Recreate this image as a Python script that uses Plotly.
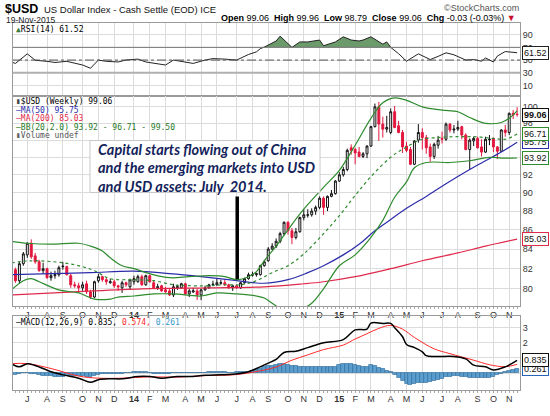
import math
import numpy as np
import pandas as pd
import plotly.graph_objects as go

# ------------------------------------------------------------------ data
SYMBOL = "$USD"
NAME = "US Dollar Index - Cash Settle (EOD) ICE"
AS_OF = "19-Nov-2015"
HDR_OPEN, HDR_HIGH, HDR_LOW, HDR_CLOSE, HDR_CHG, HDR_CHG_PCT = "99.06", "99.96", "98.79", "99.06", "-0.03", "-0.03%"

WEEK_START = "2013-06-03"   # first weekly bar (Monday)

OPEN = [83.2, 81.9, 80.8, 82.5, 83.4, 84.6, 83.3, 82.7, 81.8, 82.0,
        81.1, 81.3, 81.4, 82.2, 82.2, 81.3, 80.4, 80.3, 80.1, 80.5,
        79.7, 79.2, 80.8, 81.2, 80.9, 80.6, 80.7, 80.3, 80.1, 80.6,
        80.2, 80.7, 80.7, 81.2, 80.4, 81.3, 80.6, 80.1, 80.3, 79.9,
        79.8, 79.4, 80.1, 80.1, 80.5, 79.5, 79.7, 79.8, 79.4, 79.9,
        80.1, 80.4, 80.4, 80.55, 80.6, 80.4, 80.1, 80.3, 80.1, 80.6,
        81.0, 81.35, 81.4, 81.4, 82.3, 82.8, 84.0, 84.3, 84.8, 85.6,
        86.8, 85.9, 85.2, 85.8, 87.3, 87.55, 87.6, 88.0, 88.4, 89.4,
        88.4, 89.6, 89.9, 91.3, 92.0, 92.6, 95.1, 94.9, 94.6, 94.1,
        94.4, 95.3, 97.6, 100.0, 97.9, 97.3, 96.9, 99.4, 97.7, 96.9,
        95.3, 94.9, 93.2, 96.0, 96.9, 96.3, 95.2, 94.1, 95.4, 96.2,
        96.1, 97.9, 97.2, 97.3, 97.6, 96.6, 94.9, 95.9, 96.2, 95.2,
        94.6, 96.05, 96.2, 95.2, 94.7, 97.2, 96.9, 99.2, 99.1]
HIGH = [83.3, 82.1, 82.7, 83.7, 84.7, 85.0, 83.6, 82.9, 82.6, 82.1,
        81.7, 81.8, 82.3, 82.7, 82.3, 81.5, 80.7, 80.6, 80.7, 80.8,
        79.9, 80.8, 81.5, 81.3, 81.1, 81.0, 80.9, 80.4, 80.8, 80.7,
        81.0, 81.3, 81.4, 81.4, 81.4, 81.4, 80.8, 80.5, 80.4, 80.2,
        80.0, 80.5, 80.4, 80.6, 80.6, 80.0, 80.1, 80.0, 80.0, 80.3,
        80.5, 80.8, 81.0, 80.9, 80.9, 80.5, 80.4, 80.4, 80.7, 81.1,
        81.6, 81.7, 81.6, 82.4, 82.9, 84.2, 84.6, 85.1, 85.8, 86.9,
        86.9, 86.2, 86.2, 87.4, 88.2, 88.2, 88.3, 88.6, 89.6, 89.6,
        89.7, 90.3, 91.4, 92.3, 92.9, 95.0, 95.5, 95.1, 95.2, 94.6,
        95.4, 97.7, 100.4, 100.6, 98.8, 98.9, 99.8, 100.1, 98.3, 97.2,
        95.8, 95.2, 96.0, 97.9, 97.4, 96.6, 95.6, 95.7, 96.5, 97.0,
        98.1, 98.0, 97.8, 98.3, 97.7, 96.8, 96.2, 96.4, 96.4, 96.1,
        96.4, 96.6, 96.3, 95.3, 97.3, 97.8, 99.3, 99.6, 99.96]
LOW = [81.0, 80.6, 80.5, 82.3, 83.1, 83.0, 82.5, 81.7, 81.5, 81.0,
       80.8, 81.0, 81.2, 81.9, 81.3, 80.1, 80.1, 79.6, 79.8, 79.5,
       79.0, 79.1, 80.6, 80.7, 80.4, 80.5, 80.1, 79.8, 79.6, 80.2,
       79.9, 80.4, 80.6, 80.3, 80.3, 80.6, 80.0, 79.9, 79.7, 79.6,
       79.3, 79.2, 79.9, 80.0, 79.4, 79.2, 79.6, 78.9, 78.9, 79.8,
       80.0, 80.3, 80.3, 80.4, 80.3, 80.0, 79.8, 80.0, 80.0, 80.5,
       80.9, 81.2, 81.2, 81.3, 82.2, 82.7, 83.9, 84.1, 84.6, 85.4,
       85.5, 84.5, 85.0, 85.7, 87.0, 87.3, 87.4, 87.6, 88.2, 87.6,
       88.0, 89.5, 89.8, 91.2, 91.8, 92.4, 94.3, 93.2, 94.0, 93.9,
       93.9, 95.2, 97.5, 95.9, 96.3, 96.9, 96.7, 97.4, 96.8, 94.5,
       94.6, 93.1, 93.1, 95.7, 94.9, 94.4, 93.5, 93.8, 95.0, 95.6,
       95.9, 96.9, 96.8, 97.1, 96.1, 94.8, 92.6, 95.3, 95.0, 94.1,
       94.5, 95.4, 94.6, 93.8, 94.6, 96.4, 96.6, 98.5, 98.79]
CLOSE = [81.6, 80.8, 82.5, 83.5, 84.6, 83.2, 82.7, 81.8, 82.0, 81.1,
         81.3, 81.4, 82.1, 82.25, 81.4, 80.4, 80.3, 80.1, 80.4, 79.7,
         79.2, 80.7, 81.2, 80.9, 80.7, 80.7, 80.3, 80.2, 80.6, 80.4,
         80.9, 81.0, 81.2, 80.4, 81.3, 80.7, 80.1, 80.2, 79.8, 79.7,
         79.4, 80.2, 80.2, 80.5, 79.5, 79.8, 79.8, 79.4, 79.9, 80.1,
         80.4, 80.45, 80.6, 80.6, 80.4, 80.1, 80.3, 80.1, 80.6, 81.0,
         81.4, 81.4, 81.5, 82.3, 82.7, 84.0, 84.3, 84.8, 85.6, 86.8,
         85.9, 85.2, 85.8, 87.3, 87.6, 87.6, 88.0, 88.4, 89.4, 88.4,
         89.6, 89.9, 91.3, 92.0, 92.6, 94.8, 94.8, 94.5, 94.1, 94.4,
         95.3, 97.6, 100.0, 97.9, 97.3, 97.5, 99.4, 97.5, 96.9, 95.2,
         94.8, 93.2, 95.9, 96.9, 96.3, 95.1, 94.1, 95.5, 96.0, 96.1,
         97.9, 97.2, 97.3, 97.5, 96.6, 94.9, 96.0, 96.2, 95.1, 94.6,
         96.1, 96.1, 95.2, 94.7, 97.2, 96.9, 99.2, 99.0, 99.06]

# overlays: (week index, value)
MA50_WK = [0, 10, 20, 31, 40, 48, 56, 64, 70, 75, 79, 84, 88, 92, 96, 100, 105, 110, 116, 120, 124, 128]
MA50 = [81.4, 81.5, 81.6, 81.75, 81.5, 81.2, 80.85, 80.55, 80.9, 81.6, 82.3, 83.4, 84.5, 85.9, 87.1,
        88.3, 89.6, 91.0, 92.6, 93.6, 94.6, 95.75]
MA200_WK = [0, 16, 33, 50, 64, 74, 79, 87, 96, 104, 113, 120, 128]
MA200 = [79.4, 79.7, 80.0, 80.1, 80.2, 80.5, 80.7, 81.2, 82.0, 82.8, 83.6, 84.3, 85.03]
BBM_WK = [0, 5, 13, 18, 21, 25, 31, 36, 41, 46, 50, 54, 58, 62, 66, 70, 74, 79, 83, 87, 91, 96,
          100, 104, 108, 112, 117, 122, 125, 128]
BBM = [82.6, 82.8, 82.6, 82.2, 81.8, 81.0, 80.9, 80.8, 80.4, 80.3, 80.3, 80.4, 80.4, 80.8, 81.6,
       82.3, 83.5, 85.6, 87.5, 89.7, 91.8, 94.0, 95.2, 96.1, 96.3, 96.4, 96.4, 96.2, 96.1, 96.71]
BBU_WK = [0, 4, 10, 17, 20, 23, 25, 28, 31, 35, 40, 45, 50, 54, 57, 60, 62, 64, 67, 70, 74, 79,
          83, 87, 91, 94, 97, 100, 104, 109, 113, 116, 120, 124, 126, 128]
BBU = [84.8, 84.6, 84.5, 84.6, 84.3, 83.8, 83.1, 82.3, 82.0, 81.5, 81.1, 81.2, 81.3, 81.2, 80.9,
       81.2, 81.7, 82.8, 84.3, 86.0, 88.2, 90.6, 92.5, 95.4, 98.6, 100.5, 101.1, 100.8, 100.0,
       99.6, 99.4, 98.7, 98.0, 98.1, 98.6, 99.5]
BBL_WK = [0, 3, 5, 7, 12, 17, 21, 25, 27, 31, 36, 41, 48, 52, 57, 62, 64, 66, 68, 70, 73, 76,
          79, 83, 87, 91, 94, 97, 100, 102, 105, 111, 116, 121, 124, 128]
BBL = [79.9, 80.8, 81.0, 80.7, 79.9, 79.6, 79.0, 79.0, 79.2, 79.3, 79.5, 79.5, 79.3, 79.6, 79.5,
       79.3, 79.1, 78.6, 78.1, 77.9, 78.0, 78.6, 80.0, 82.3, 83.4, 85.2, 87.0, 89.5, 91.2, 92.8,
       93.4, 93.4, 93.6, 94.0, 93.9, 93.92]

RSI_WK = [0, 1, 4, 5, 6, 9, 11, 14, 17, 18, 20, 22, 24, 27, 29, 32, 34, 37, 39, 41, 44, 46, 49,
          51, 54, 57, 60, 62, 63, 64, 67, 68, 71, 73, 75, 78, 79, 82, 84, 86, 88, 89, 91, 94, 95,
          96, 98, 100, 103, 106, 108, 110, 112, 115, 117, 119, 120, 122, 123, 125, 128]
RSI = [47, 44.7, 59.8, 54.8, 49.7, 48, 46.2, 48, 43.2, 42.2, 37.1, 50, 48, 47, 50, 51.5, 47, 44.7,
       42.2, 50, 47, 44.7, 50, 52.3, 51.5, 50, 58.8, 62.9, 68.0, 70.4, 80, 87.6, 70, 78.5, 78.5,
       81.5, 72.5, 78.5, 86.6, 81.5, 80, 81.5, 86.6, 75, 78.5, 70, 60, 48.2, 59.8, 50.8, 55.8,
       61.4, 58.3, 50, 50.8, 48.2, 53.3, 47, 56.3, 63.4, 61.52]
RSI_LEVELS = (30, 50, 70)
RSI_TICKS = [10, 30, 50, 70, 90]

MACD_WK = [0, 2, 4, 6, 10, 13, 17, 20, 22, 25, 28, 32, 35, 38, 42, 45, 49, 53, 56, 60, 62, 65, 67,
           69, 72, 75, 79, 84, 87, 90, 91, 94, 96, 97, 99, 100, 102, 104, 105, 107, 112, 115, 117,
           120, 122, 125, 128]
MACD = [0.62, 0.41, 0.62, 0.5, 0.09, -0.12, -0.34, -0.61, -0.44, -0.38, -0.38, -0.23, -0.23, -0.34,
        -0.23, -0.23, -0.15, -0.12, -0.08, 0.09, 0.3, 0.66, 0.9, 1.36, 1.44, 1.68, 2.0, 2.21, 2.85,
        2.9, 3.3, 3.28, 3.28, 3.0, 2.4, 1.89, 1.68, 1.4, 1.15, 1.09, 1.1, 0.94, 0.52, 0.41, 0.2,
        0.41, 0.835]
SIG_WK = [0, 4, 10, 17, 22, 28, 35, 42, 49, 56, 61, 67, 71, 75, 79, 84, 87, 90, 93, 96, 99, 102,
          107, 111, 117, 121, 125, 128]
SIG = [0.62, 0.62, 0.3, -0.2, -0.34, -0.34, -0.25, -0.27, -0.17, -0.12, 0.05, 0.4, 0.85, 1.2, 1.55,
       1.85, 2.25, 2.6, 2.95, 3.15, 2.9, 2.35, 1.6, 1.28, 0.85, 0.55, 0.42, 0.574]
HIST = [-0.05, -0.10, -0.05, 0.00, 0.02, -0.04, -0.08, -0.12, -0.16, -0.19,
        -0.21, -0.22, -0.22, -0.22, -0.21, -0.20, -0.18, -0.16, -0.20, -0.26,
        -0.30, -0.20, -0.12, -0.08, -0.05, -0.04, -0.03, -0.02, -0.03, 0.00,
        0.04, 0.07, 0.09, 0.08, 0.05, 0.03, -0.02, -0.05, -0.07, -0.05,
        -0.03, 0.00, 0.02, 0.03, 0.01, -0.01, 0.00, 0.01, 0.03, 0.04,
        0.05, 0.06, 0.06, 0.05, 0.05, 0.04, 0.04, 0.05, 0.06, 0.08,
        0.10, 0.15, 0.22, 0.30, 0.38, 0.45, 0.50, 0.55, 0.60, 0.58,
        0.55, 0.50, 0.45, 0.44, 0.42, 0.42, 0.40, 0.40, 0.38, 0.38,
        0.38, 0.40, 0.44, 0.52, 0.58, 0.62, 0.60, 0.55, 0.45, 0.38,
        0.42, 0.52, 0.45, 0.35, 0.25, 0.15, 0.08, -0.12, -0.32, -0.52,
        -0.72, -0.76, -0.70, -0.66, -0.62, -0.64, -0.60, -0.54, -0.45, -0.38,
        -0.28, -0.22, -0.18, -0.20, -0.24, -0.28, -0.30, -0.32, -0.32, -0.30,
        -0.32, -0.30, -0.26, -0.14, -0.02, 0.08, 0.16, 0.22, 0.261]
MACD_TICKS = [0, 1, 2, 3]
MACD_TICK_TEXT = ["", "", "2", "3"]          # 0 and 1 sit under the value boxes

TICK_DATES = ["2013-07-01", "2013-08-05", "2013-09-02", "2013-10-07", "2013-11-04", "2013-12-02",
              "2014-01-06", "2014-02-03", "2014-03-03", "2014-04-07", "2014-05-05", "2014-06-02",
              "2014-07-07", "2014-08-04", "2014-09-01", "2014-10-06", "2014-11-03", "2014-12-01",
              "2015-01-05", "2015-02-02", "2015-03-02", "2015-04-06", "2015-05-04", "2015-06-01",
              "2015-07-06", "2015-08-03", "2015-09-07", "2015-10-05", "2015-11-02"]
TICK_TEXT = ["J", "A", "S", "O", "N", "D", "<b>14</b>", "F", "M", "A", "M", "J", "J", "A", "S", "O",
             "N", "D", "<b>15</b>", "F", "M", "A", "M", "J", "J", "A", "S", "O", "N"]
PRICE_TICKS = [80, 82, 84, 86, 88, 90, 92, 94, 96, 98, 100]
PRICE_TICK_TEXT = ["80", "82", "84", "86", "88", "90", "92", "", "", "98", "100"]  # 94/96 hidden by boxes

EVENT_DATE = "2014-07-08"
EVENT_LOW, EVENT_HIGH = 80.95, 89.6
NOTE_LINES = ["Capital starts flowing out of China",
              "and the emerging markets into USD",
              "and USD assets: July\u00a0 2014."]

# ------------------------------------------------------------------ geometry
W, H = 550, 416
ML, MR, MT, MB = 13, 30, 23, 12
PW, PH = W - ML - MR, H - MT - MB


def px_x(px):
    return (px - ML) / PW


def px_y(py):
    return (H - MB - py) / PH


dates = pd.date_range(WEEK_START, periods=len(CLOSE), freq="7D")


def wk(idx):
    return [dates[i] for i in idx]


XRANGE = ["2013-06-05 16:00", "2015-11-21 03:00"]
GRID = "#dcdcdc"
FRAME = "#9a9a9a"
C_UP_LINE, C_DN = "#111111", "#e3173e"
C_MA50, C_MA200, C_BB = "#2c2caa", "#e02a4c", "#2e8b2e"
TICKFONT = dict(family="Liberation Sans", size=9, color="#333333")
MONO = "DejaVu Sans Mono"

fig = go.Figure()

# ---- RSI panel
x_rsi = wk(RSI_WK)
fig.add_trace(go.Scatter(x=x_rsi, y=[RSI_LEVELS[2]] * len(x_rsi), mode="lines",
                         line=dict(width=0), xaxis="x", yaxis="y", hoverinfo="skip"))
fig.add_trace(go.Scatter(x=x_rsi, y=np.maximum(RSI, RSI_LEVELS[2]), mode="lines",
                         line=dict(width=0), fill="tonexty", fillcolor="#6b9a6b",
                         xaxis="x", yaxis="y", hoverinfo="skip"))
fig.add_trace(go.Scatter(x=x_rsi, y=RSI, mode="lines", line=dict(color="#222222", width=1),
                         xaxis="x", yaxis="y"))

# ---- price panel
fig.add_trace(go.Candlestick(
    x=dates, open=OPEN, high=HIGH, low=LOW, close=CLOSE, xaxis="x2", yaxis="y2",
    increasing=dict(line=dict(color=C_UP_LINE, width=1), fillcolor="white"),
    decreasing=dict(line=dict(color=C_DN, width=1), fillcolor=C_DN),
    whiskerwidth=0))
fig.add_trace(go.Scatter(x=wk(MA200_WK), y=MA200, mode="lines", line=dict(color=C_MA200, width=1.2, shape="spline"),
                         xaxis="x2", yaxis="y2"))
fig.add_trace(go.Scatter(x=wk(MA50_WK), y=MA50, mode="lines", line=dict(color=C_MA50, width=1.2, shape="spline"),
                         xaxis="x2", yaxis="y2"))
fig.add_trace(go.Scatter(x=wk(BBU_WK), y=BBU, mode="lines", line=dict(color=C_BB, width=1.2, shape="spline"),
                         xaxis="x2", yaxis="y2"))
fig.add_trace(go.Scatter(x=wk(BBL_WK), y=BBL, mode="lines", line=dict(color=C_BB, width=1.2, shape="spline"),
                         xaxis="x2", yaxis="y2"))
fig.add_trace(go.Scatter(x=wk(BBM_WK), y=BBM, mode="lines",
                         line=dict(color=C_BB, width=1.2, dash="dot", shape="spline"),
                         xaxis="x2", yaxis="y2"))
fig.add_trace(go.Scatter(x=[EVENT_DATE, EVENT_DATE], y=[EVENT_LOW, EVENT_HIGH], mode="lines",
                         line=dict(color="black", width=3.5), xaxis="x2", yaxis="y2"))

# ---- MACD panel
fig.add_trace(go.Bar(x=dates, y=HIST, marker=dict(color="#5b9fd0", line=dict(color="#2a6496", width=0.6)),
                     xaxis="x3", yaxis="y3"))
fig.add_trace(go.Scatter(x=wk(SIG_WK), y=SIG, mode="lines", line=dict(color="#ff2a2a", width=1, shape="spline"),
                         xaxis="x3", yaxis="y3"))
fig.add_trace(go.Scatter(x=wk(MACD_WK), y=MACD, mode="lines", line=dict(color="black", width=1.5, shape="spline"),
                         xaxis="x3", yaxis="y3"))

# ------------------------------------------------------------------ axes
common_x = dict(type="date", range=XRANGE, tickmode="array", tickvals=TICK_DATES, ticktext=TICK_TEXT,
                showgrid=True, gridcolor=GRID, gridwidth=1, zeroline=False, showline=True,
                linecolor=FRAME, linewidth=1, mirror=True, tickfont=TICKFONT, ticks="",
                rangeslider=dict(visible=False), fixedrange=True)
minor = dict(ticks="outside", ticklen=2, tickcolor="#aaaaaa", dtick=7 * 86400000, tick0=WEEK_START,
             showgrid=False)
common_y = dict(side="right", showgrid=True, gridcolor=GRID, gridwidth=1, zeroline=False, showline=True,
                linecolor=FRAME, linewidth=1, mirror=True, tickfont=TICKFONT, ticks="", fixedrange=True,
                tickmode="array")

fig.update_layout(
    width=W, height=H, margin=dict(l=ML, r=MR, t=MT, b=MB),
    paper_bgcolor="white", plot_bgcolor="white", showlegend=False, hovermode=False,
    bargap=0,
    xaxis=dict(common_x, anchor="y", matches="x3", showticklabels=False),
    xaxis2=dict(common_x, anchor="y2", matches="x3", showticklabels=True, minor=minor),
    xaxis3=dict(common_x, anchor="y3", showticklabels=True, minor=minor),
    yaxis=dict(common_y, anchor="x", domain=[px_y(98.5), 1.0], range=[-6.1, 108.3],
               tickvals=RSI_TICKS),
    yaxis2=dict(common_y, anchor="x2", domain=[px_y(316.7), px_y(98.5)], type="log",
                range=[1.8940, 2.0059], tickvals=PRICE_TICKS, ticktext=PRICE_TICK_TEXT),
    yaxis3=dict(common_y, anchor="x3", domain=[0, px_y(327)], range=[-1.12, 3.78],
                tickvals=MACD_TICKS, ticktext=MACD_TICK_TEXT),
)

# RSI reference lines
shapes = [
    dict(type="line", xref="paper", x0=0, x1=1, yref="y", y0=RSI_LEVELS[2], y1=RSI_LEVELS[2],
         line=dict(color="#777777", width=1), layer="above"),
    dict(type="line", xref="paper", x0=0, x1=1, yref="y", y0=RSI_LEVELS[1], y1=RSI_LEVELS[1],
         line=dict(color="#555555", width=1, dash="dashdot"), layer="above"),
    dict(type="line", xref="paper", x0=0, x1=1, yref="y", y0=RSI_LEVELS[0], y1=RSI_LEVELS[0],
         line=dict(color="#b0b0b0", width=2), layer="above"),
    # note box
    dict(type="rect", xref="paper", yref="paper", x0=px_x(90), x1=px_x(320), y0=px_y(199), y1=px_y(145),
         fillcolor="white", line=dict(color="#c8c8c8", width=1), layer="above"),
]
fig.update_layout(shapes=shapes)

ann = []


def text(t, x, y, size=9, color="#000", family="Liberation Sans", anchor="left"):
    ann.append(dict(text=t, x=px_x(x), y=px_y(y), xref="paper", yref="paper", xanchor=anchor,
                    yanchor="middle", showarrow=False, font=dict(family=family, size=size, color=color)))


# header
text("<b>" + SYMBOL + "</b>", 3, 8, size=12.5)
text(NAME, 42, 8.5, size=9.5, color="#111")
text(AS_OF, 4, 19.5, size=8.5, color="#222")
text("<b>Open</b> %s  <b>High</b> %s  <b>Low</b> %s  <b>Close</b> %s  <b>Chg</b> %s (%s) "
     "<span style='color:#c8102e'>▼</span>" % (HDR_OPEN, HDR_HIGH, HDR_LOW, HDR_CLOSE, HDR_CHG, HDR_CHG_PCT),
     518, 18, size=9, anchor="right")
text("©StockCharts.com", 521, 7, size=9, color="#555", anchor="right")

# panel legends
text("<span style='color:#3a7a3a'>▲</span>RSI(14) %.2f" % RSI[-1], 14, 29.5, size=8, family=MONO)
text("<span style='color:#444'>▮</span>%s (Weekly) %.2f" % (SYMBOL, CLOSE[-1]), 14, 105, size=8, family=MONO)
text("—MA(50) %.2f" % MA50[-1], 14, 113.5, size=8, family=MONO, color=C_MA50)
text("—MA(200) %.2f" % MA200[-1], 14, 122, size=8, family=MONO, color=C_MA200)
text("—BB(20,2.0) %.2f - %.2f - %.2f" % (BBL[-1], BBM[-1], BBU[-1]), 14, 131, size=8, family=MONO,
     color="#1f7a1f")
text("<span style='color:#666'>▮</span>Volume undef", 14, 139.5, size=8, family=MONO, color="#555")
text("—MACD(12,26,9) %.3f, <span style='color:#ff2a2a'>%.3f,</span> <span style='color:#3399cc'>%.3f</span>"
     % (MACD[-1], SIG[-1], HIST[-1]), 14, 333.5, size=8, family=MONO)

# note
for k, line in enumerate(NOTE_LINES):
    text("<b><i>" + line + "</i></b>", 96, 154 + 19.5 * k, size=14.5, color="#13235b", family="Lato")


def value_box(v, fmt, yref, color, bold=False):
    y = math.log10(v) if yref == "y2" else v
    t = fmt % v
    if bold:
        t = "<b>" + t + "</b>"
    ann.append(dict(text=t, x=1, xref="paper", xanchor="left", xshift=2, y=y, yref=yref,
                    yanchor="middle", showarrow=False, bgcolor="white", bordercolor=color,
                    borderwidth=1, borderpad=1, font=dict(family="Liberation Sans", size=9, color="#111")))


value_box(RSI[-1], "%.2f", "y", "#222")
value_box(MA200[-1], "%.2f", "y2", C_MA200)
value_box(BBL[-1], "%.2f", "y2", C_BB)
value_box(MA50[-1], "%.2f", "y2", C_MA50)
value_box(BBM[-1], "%.2f", "y2", C_BB)
value_box(CLOSE[-1], "%.2f", "y2", "#111", bold=True)
value_box(SIG[-1], "%.3f", "y3", "#ff2a2a")
value_box(HIST[-1], "%.3f", "y3", "#2a64b6")
value_box(MACD[-1], "%.3f", "y3", "#111")

fig.update_layout(annotations=ann)
fig.write_html("out.html", include_plotlyjs=True, full_html=True)
